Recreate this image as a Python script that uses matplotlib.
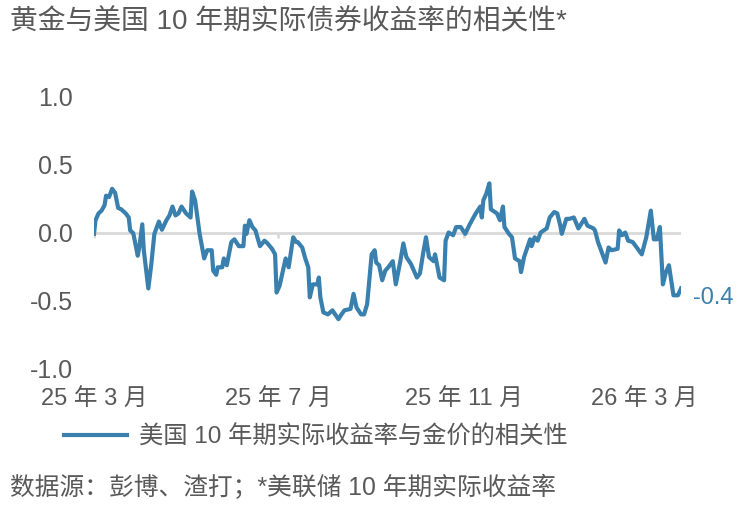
import pandas as pd
import matplotlib
matplotlib.use("Agg")
import matplotlib.pyplot as plt

plt.rcParams['font.family'] = ['Liberation Sans', 'Noto Sans CJK SC']

# data: days since 2025-03-01, correlation value
days = [0, 1, 3, 5, 7, 8, 10, 12, 14, 16, 18, 21, 23, 24, 26, 29, 30, 32, 33, 36,
        38, 40, 43, 45, 48, 50, 52, 54, 56, 58, 61, 64, 65, 67, 70, 73, 75, 78, 79, 81,
        82, 85, 86, 88, 91, 93, 96, 99, 100, 101, 103, 105, 107, 110, 113, 115, 118, 120, 121, 123,
        127, 129, 132, 134, 135, 138, 140, 142, 143, 145, 148, 149, 150, 152, 155, 158, 162, 164, 166, 170,
        172, 174, 177, 179, 181, 184, 186, 187, 189, 191, 193, 195, 198, 200, 203, 205, 207, 210, 214, 216,
        218, 220, 222, 225, 226, 229, 232, 233, 235, 238, 240, 243, 246, 249, 253, 256, 257, 258, 260, 262,
        263, 267, 269, 271, 272, 275, 277, 279, 282, 283, 285, 289, 290, 292, 294, 296, 300, 302, 305, 307,
        309, 310, 313, 315, 318, 321, 325, 327, 331, 332, 334, 336, 339, 341, 343, 347, 348, 350, 352, 354,
        357, 359, 363, 366, 369, 371, 373, 375, 377, 379, 381, 384, 387, 389]
corr = [-0.01, 0.09, 0.14, 0.16, 0.20, 0.27, 0.26, 0.32, 0.29, 0.18, 0.17, 0.14, 0.11, 0.015, -0.005, -0.17, -0.11, 0.06, -0.13, -0.41,
        -0.23, -0.01, 0.08, 0.02, 0.09, 0.125, 0.19, 0.125, 0.14, 0.19, 0.14, 0.11, 0.30, 0.235, -0.01, -0.19, -0.13, -0.13, -0.28, -0.31,
        -0.255, -0.255, -0.19, -0.24, -0.07, -0.05, -0.10, -0.10, 0.05, -0.01, 0.09, 0.04, 0.015, -0.10, -0.06, -0.08, -0.12, -0.16, -0.44, -0.39,
        -0.19, -0.255, -0.035, -0.07, -0.07, -0.11, -0.19, -0.255, -0.475, -0.38, -0.38, -0.33, -0.475, -0.585, -0.60, -0.57, -0.635, -0.60, -0.57, -0.56,
        -0.45, -0.55, -0.60, -0.60, -0.525, -0.16, -0.13, -0.22, -0.24, -0.35, -0.28, -0.255, -0.21, -0.38, -0.21, -0.08, -0.18, -0.23, -0.33, -0.30,
        -0.16, -0.035, -0.18, -0.21, -0.16, -0.33, -0.35, -0.06, 0.0, -0.02, 0.04, 0.04, -0.01, 0.06, 0.14, 0.19, 0.11, 0.235, 0.285, 0.36,
        0.17, 0.14, 0.09, 0.19, 0.04, -0.01, -0.035, -0.19, -0.21, -0.29, -0.18, -0.05, -0.10, -0.035, -0.06, 0.0, 0.03, 0.11, 0.15, 0.14,
        0.05, -0.01, 0.10, 0.10, 0.11, 0.03, 0.10, 0.05, 0.03, 0.015, -0.07, -0.13, -0.22, -0.11, -0.13, -0.12, 0.015, -0.02, 0.0, -0.06,
        -0.07, -0.10, -0.16, -0.035, 0.16, -0.05, -0.05, 0.04, -0.38, -0.29, -0.24, -0.46, -0.46, -0.41]

tick_dates = ['2025-03-01', '2025-07-01', '2025-11-01', '2026-03-01']
tick_labels = ['25 年 3 月', '25 年 7 月', '25 年 11 月', '26 年 3 月']
y_ticks = [-1.0, -0.5, 0.0, 0.5, 1.0]
end_label = '-0.4'

title = '黄金与美国 10 年期实际债券收益率的相关性*'
legend_label = '美国 10 年期实际收益率与金价的相关性'
source = '数据源：彭博、渣打；*美联储 10 年期实际收益率'

blue = '#3a80ae'
grey = '#595959'

start = pd.Timestamp('2025-03-01')
dates = start + pd.to_timedelta(days, unit='D')
ticks = pd.to_datetime(tick_dates)

fig = plt.figure(figsize=(7.52, 5.26), dpi=100)
ax = fig.add_axes([94 / 752, 1 - 369 / 526, (681 - 94) / 752, (369 - 96) / 526])

ax.axhline(0, color='#d9d9d9', lw=2, zorder=1)
ax.vlines(ticks[:3], -0.04, 0, color='#d9d9d9', lw=2, zorder=1)
ax.plot(dates, corr, color=blue, lw=3.0, solid_joinstyle='round', zorder=3,
        label=legend_label)

ax.annotate(end_label, (dates[-1], corr[-1]), xytext=(9, -7),
            textcoords='offset points', ha='left', va='center',
            color=blue, fontsize=17)

ax.set_xlim(start, start + pd.Timedelta(days=389))
ax.set_ylim(-1.0, 1.0)
ax.set_yticks(y_ticks)
ax.set_yticklabels([f'{v:.1f}' for v in y_ticks])
ax.set_xticks(ticks)
ax.set_xticklabels(tick_labels)
ax.tick_params(axis='y', length=0, pad=15, labelsize=18, labelcolor=grey)
ax.tick_params(axis='x', length=0, pad=14, labelsize=17, labelcolor=grey)
for s in ax.spines.values():
    s.set_visible(False)

fig.text(10 / 752, 1 - 22 / 526, title, fontsize=20, color=grey, va='center', ha='left')

fig.legend(loc='center left', bbox_to_anchor=(42 / 752, 1 - 437 / 526), frameon=False,
           fontsize=17.5, handlelength=2.6, handletextpad=0.5, labelcolor=grey)

fig.text(10 / 752, 1 - 487 / 526, source, fontsize=17.8, color=grey, va='center', ha='left')

fig.savefig('out.png', dpi=100)
